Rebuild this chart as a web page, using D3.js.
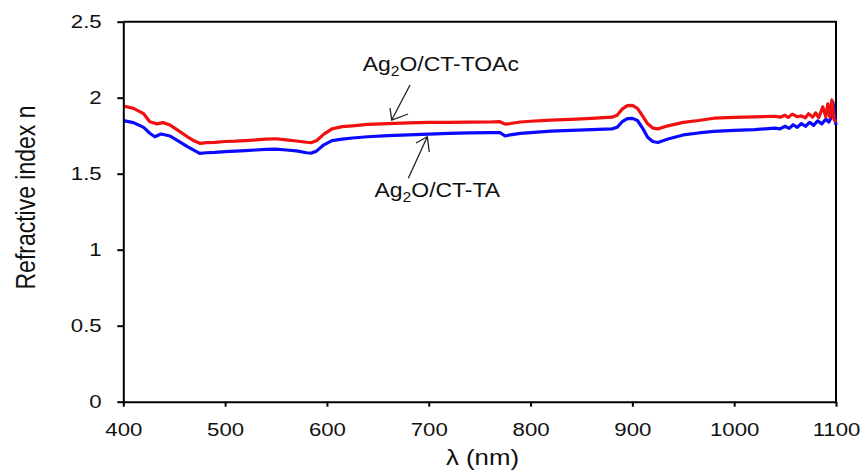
<!DOCTYPE html>
<html>
<head>
<meta charset="utf-8">
<script src="https://cdn.jsdelivr.net/npm/d3@7/dist/d3.min.js"></script>
<style>
  html, body { margin: 0; padding: 0; background: #fff; }
  svg { display: block; }
  text { font-family: "Liberation Sans", Arial, sans-serif; fill: #111; }
</style>
</head>
<body>
<svg id="chart" width="865" height="476"></svg>
<script>
// ---------------- data ----------------
const wavelengthTOAc = [400,410,420,426,433,439,446,453,463,470,475,482,490,500,510,520,530,540,550,560,570,580,585,590,597,605,615,625,640,660,680,700,720,740,760,770,775,780,790,800,820,840,860,880,885,890,895,900,905,910,915,920,925,935,950,965,980,1000,1020,1040,1045,1050,1053,1057,1062,1066,1070,1073,1077,1080,1083,1087,1090,1092,1094,1096,1098,1100];
const nTOAc = [1.945,1.930,1.895,1.842,1.828,1.836,1.820,1.788,1.743,1.715,1.700,1.704,1.706,1.712,1.714,1.718,1.722,1.728,1.730,1.722,1.715,1.707,1.705,1.718,1.760,1.795,1.810,1.815,1.824,1.830,1.834,1.838,1.838,1.839,1.840,1.842,1.826,1.830,1.840,1.845,1.852,1.858,1.864,1.872,1.885,1.925,1.948,1.950,1.930,1.880,1.828,1.800,1.795,1.815,1.838,1.850,1.865,1.870,1.874,1.878,1.872,1.885,1.870,1.892,1.875,1.880,1.868,1.895,1.872,1.900,1.868,1.940,1.875,1.960,1.870,1.985,1.860,1.840];

const wavelengthTA = [400,410,420,426,431,437,446,453,463,475,482,490,500,510,520,530,540,550,560,570,580,585,590,597,605,615,625,640,660,680,700,720,740,760,770,775,780,790,800,820,840,860,880,885,890,895,900,905,910,915,920,925,935,950,965,980,1000,1020,1040,1045,1050,1054,1058,1062,1066,1070,1074,1078,1082,1086,1090,1093,1096,1097,1099,1100];
const nTA = [1.849,1.836,1.805,1.766,1.743,1.761,1.748,1.720,1.678,1.634,1.638,1.640,1.645,1.648,1.652,1.656,1.660,1.662,1.656,1.650,1.638,1.636,1.650,1.690,1.718,1.728,1.735,1.743,1.750,1.755,1.760,1.765,1.768,1.770,1.770,1.748,1.755,1.765,1.770,1.780,1.785,1.790,1.795,1.805,1.842,1.862,1.864,1.850,1.800,1.740,1.712,1.705,1.728,1.755,1.768,1.778,1.785,1.790,1.800,1.795,1.812,1.798,1.822,1.805,1.830,1.812,1.838,1.818,1.848,1.828,1.858,1.840,1.880,1.970,1.860,1.820];

const xTicks = [400,500,600,700,800,900,1000,1100];
const yTicks = [0,0.5,1,1.5,2,2.5];
const xTitle = "λ (nm)";
const yTitle = "Refractive index n";

// ---------------- layout ----------------
const svg = d3.select("#chart");
const mLeft = 123.3, mRight = 836, mTop = 21.7, mBottom = 401.7;
const TX = 1.2; // horizontal text stretch seen in the reference

const x = d3.scaleLinear().domain([400, 1100]).range([mLeft, mRight]);
const y = d3.scaleLinear().domain([0, 2.5]).range([mBottom, mTop]);

// plot box (top/right)
svg.append("path")
  .attr("d", `M${mLeft},${mTop}H${mRight}V${mBottom}`)
  .attr("fill", "none").attr("stroke", "#000").attr("stroke-width", 2);

// lines
const line = d3.line().x(d => x(d[0])).y(d => y(d[1]));
const taData = wavelengthTA.map((w, i) => [w, nTA[i]]);
const toacData = wavelengthTOAc.map((w, i) => [w, nTOAc[i]]);

svg.append("path").datum(taData)
  .attr("d", line).attr("fill", "none")
  .attr("stroke", "#0a0aff").attr("stroke-width", 3.2).attr("stroke-linejoin", "round");
svg.append("path").datum(toacData)
  .attr("d", line).attr("fill", "none")
  .attr("stroke", "#f01010").attr("stroke-width", 3.2).attr("stroke-linejoin", "round");

// axes
const gx = svg.append("g").attr("transform", `translate(0,${mBottom})`)
  .call(d3.axisBottom(x).tickValues(xTicks).tickFormat(d3.format("d")).tickSize(5).tickPadding(16).tickSizeOuter(0));
const gy = svg.append("g").attr("transform", `translate(${mLeft},0)`)
  .call(d3.axisLeft(y).tickValues(yTicks).tickFormat(d => d === 0 ? "0" : String(d)).tickSize(6).tickSizeOuter(0));

[gx, gy].forEach(g => {
  g.select(".domain").attr("stroke", "#000").attr("stroke-width", 2);
  g.selectAll(".tick line").attr("stroke", "#000").attr("stroke-width", 2);
  g.selectAll(".tick text").attr("font-size", 18.5).attr("fill", "#111")
    .style("font-family", '"Liberation Sans", Arial, sans-serif');
});
gx.selectAll(".tick text").attr("transform", `scale(${TX},1)`);
gy.selectAll(".tick text").attr("x", -21.6 / TX).attr("transform", `scale(${TX},1)`);

// axis titles
svg.append("text")
  .attr("transform", `translate(482.5,465) scale(${TX},1)`)
  .attr("text-anchor", "middle").attr("font-size", 21.5).text(xTitle);
svg.append("text")
  .attr("transform", `translate(35,197.5) rotate(-90) scale(1,${TX})`)
  .attr("text-anchor", "middle").attr("font-size", 23).text(yTitle);

// annotations
function label(cx, by, rest) {
  const t = svg.append("text")
    .attr("transform", `translate(${cx},${by}) scale(1.12,1)`)
    .attr("text-anchor", "middle").attr("font-size", 20.5);
  t.append("tspan").text("Ag");
  t.append("tspan").attr("font-size", 14).attr("dy", 5).text("2");
  t.append("tspan").attr("dy", -5).text(rest);
}
label(440.8, 70.7, "O/CT-TOAc");
label(437.3, 197.3, "O/CT-TA");

function arrow(x1, y1, x2, y2, a1, a2) {
  svg.append("path")
    .attr("d", `M${x1},${y1}L${x2},${y2}M${a1[0]},${a1[1]}L${x2},${y2}L${a2[0]},${a2[1]}`)
    .attr("fill", "none").attr("stroke", "#222").attr("stroke-width", 1.3);
}
arrow(410, 85, 391.7, 120, [390, 108], [408, 114]);
arrow(408.3, 178.3, 427.3, 136.7, [416, 143], [429.3, 152]);
</script>
</body>
</html>
